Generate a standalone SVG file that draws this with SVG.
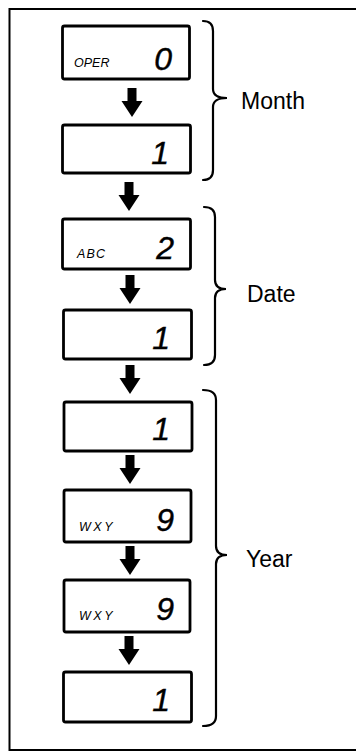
<svg xmlns="http://www.w3.org/2000/svg" width="356" height="752" viewBox="0 0 356 752">
<style>
.box{fill:#fff;stroke:#000;stroke-width:2.8}
.brace{fill:none;stroke:#000;stroke-width:2.2;stroke-linecap:round}
.dig{font-family:"Liberation Sans",Arial,sans-serif;font-style:italic;font-size:32px;text-anchor:end;fill:#000;stroke:#000;stroke-width:0.4}
.sm{font-family:"Liberation Sans",Arial,sans-serif;font-style:italic;font-size:12.5px;fill:#000}
.lbl{font-family:"Liberation Sans",Arial,sans-serif;font-size:23px;fill:#000}
.arr{fill:#000}
</style>
<defs>
<path id="arrow" d="M-4.5,0 H4.5 V13 H10.5 L0,29 L-10.5,13 H-4.5 Z"/>
</defs>
<rect x="9.5" y="9" width="360" height="741" fill="none" stroke="#000" stroke-width="2"/>
<g id="connectors">
<use href="#arrow" class="arr" x="132" y="88"/>
<use href="#arrow" class="arr" x="129" y="182"/>
<use href="#arrow" class="arr" x="130" y="275"/>
<use href="#arrow" class="arr" x="130" y="365"/>
<use href="#arrow" class="arr" x="130" y="455"/>
<use href="#arrow" class="arr" x="130" y="546"/>
<use href="#arrow" class="arr" x="129" y="636"/>
</g>
<g id="n1"><rect class="box" x="62.5" y="26" width="127" height="53" rx="2"/><text class="sm" x="74" y="67">OPER</text><text class="dig" x="172" y="70">0</text></g>
<g id="n2"><rect class="box" x="62.5" y="125" width="128" height="48" rx="2"/><text class="dig" x="169" y="164">1</text></g>
<g id="n3"><rect class="box" x="62.5" y="219" width="128" height="50" rx="2"/><text class="sm" x="77" y="258" letter-spacing="1.2">ABC</text><text class="dig" x="174" y="259">2</text></g>
<g id="n4"><rect class="box" x="63.5" y="310" width="128" height="49" rx="2"/><text class="dig" x="170" y="349">1</text></g>
<g id="n5"><rect class="box" x="64" y="402" width="128" height="49" rx="2"/><text class="dig" x="170" y="440">1</text></g>
<g id="n6"><rect class="box" x="64" y="490" width="127" height="52" rx="2"/><text class="sm" x="79" y="531" letter-spacing="2.5">WXY</text><text class="dig" x="174" y="531">9</text></g>
<g id="n7"><rect class="box" x="64" y="580" width="126" height="52" rx="2"/><text class="sm" x="79" y="620" letter-spacing="2.5">WXY</text><text class="dig" x="174" y="620">9</text></g>
<g id="n8"><rect class="box" x="63.5" y="672" width="128" height="50" rx="2"/><text class="dig" x="170" y="711">1</text></g>
<g id="month">
<path class="brace" d="M203,21 Q213,21 213,31 L213,89 Q213,98 227,98 Q213,98 213,107 L213,170 Q213,180 203,180"/>
<text class="lbl" x="241" y="109">Month</text>
</g>
<g id="date">
<path class="brace" d="M204,207 Q215,207 215,217 L215,280 Q215,289 226,289 Q215,289 215,298 L215,355 Q215,365 204,365"/>
<text class="lbl" x="247" y="302">Date</text>
</g>
<g id="year">
<path class="brace" d="M203,390 Q216,390 216,400 L216,546 Q216,555 227,555 Q216,555 216,564 L216,716 Q216,726 203,726"/>
<text class="lbl" x="246" y="567">Year</text>
</g>
</svg>
